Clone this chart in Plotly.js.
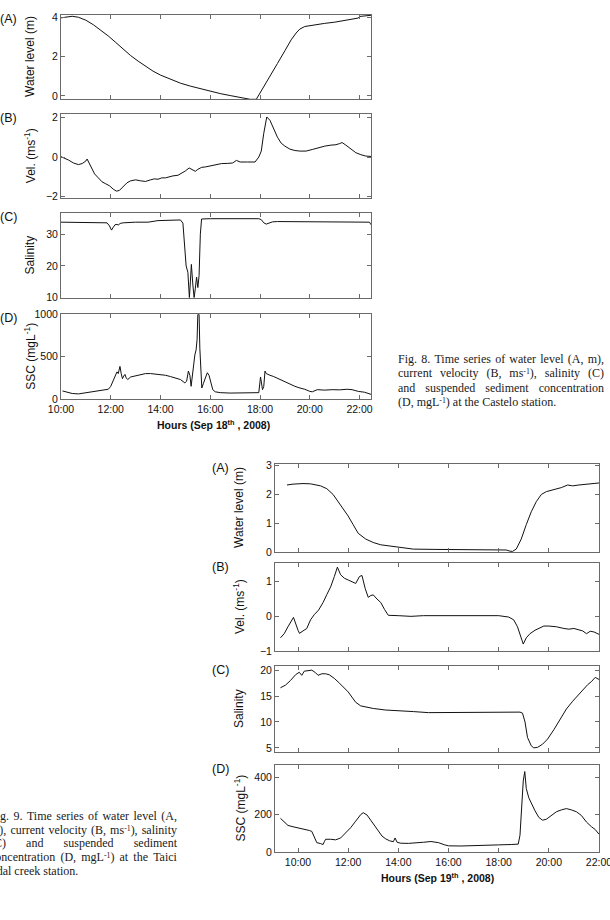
<!DOCTYPE html>
<html><head><meta charset="utf-8">
<script src="https://cdn.plot.ly/plotly-3.0.1.min.js"></script>
<style>
html,body{margin:0;padding:0;background:#fff;}
body{width:610px;height:920px;overflow:hidden;position:relative;}
#chart{position:absolute;left:0;top:0;width:610px;height:920px;}
.cap{position:absolute;font-family:"Liberation Serif","Times New Roman",serif;color:#1a1a1a;z-index:5;}
.cap .ln{display:flex;justify-content:space-between;white-space:nowrap;}
.cap .ln.last{display:block;}
.cap sup{font-size:65%;vertical-align:0.45em;line-height:0;}
</style></head>
<body>
<div id="chart"></div>
<script>
// ---------- Fig. 8 (Castelo, Sep 18th 2008) ----------
const h8A = [10.0,10.2,10.45,10.7,11.0,11.3,11.6,11.9,12.2,12.5,12.8,13.1,13.4,13.7,14.0,14.4,14.8,15.2,15.6,16.0,16.4,16.8,17.2,17.45,17.6,17.85,18.1,18.4,18.7,19.0,19.25,19.45,19.6,19.8,20.2,20.6,21.0,21.4,21.8,21.95,22.0,22.2,22.46];
const waterLevel8 = [3.97,4.02,4.05,4.0,3.85,3.62,3.35,3.05,2.72,2.38,2.05,1.77,1.5,1.26,1.06,0.85,0.65,0.5,0.36,0.24,0.12,0.02,-0.08,-0.15,-0.17,-0.17,0.35,1.0,1.65,2.3,2.85,3.2,3.4,3.53,3.62,3.69,3.75,3.83,3.92,3.96,4.04,4.06,4.1];

const h8B = [10.0,10.15,10.3,10.5,10.7,10.85,11.0,11.05,11.2,11.35,11.5,11.65,11.8,11.95,12.1,12.23,12.35,12.5,12.65,12.8,13.0,13.2,13.4,13.6,13.75,13.9,14.05,14.2,14.35,14.5,14.7,14.9,15.0,15.15,15.25,15.4,15.5,15.65,15.8,16.0,16.2,16.45,16.7,16.9,17.05,17.2,17.5,17.8,17.95,18.05,18.15,18.27,18.4,18.55,18.7,18.85,19.0,19.2,19.4,19.6,19.85,20.1,20.35,20.6,20.85,21.05,21.2,21.3,21.45,21.65,21.85,22.05,22.25,22.46];
const velocity8 = [0.02,-0.05,-0.15,-0.3,-0.38,-0.33,-0.2,-0.1,-0.45,-0.85,-1.05,-1.25,-1.35,-1.45,-1.62,-1.72,-1.68,-1.5,-1.3,-1.2,-1.15,-1.2,-1.23,-1.15,-1.1,-1.12,-1.05,-1.05,-0.98,-0.95,-0.92,-0.8,-0.7,-0.55,-0.62,-0.72,-0.62,-0.52,-0.5,-0.45,-0.4,-0.33,-0.32,-0.3,-0.17,-0.25,-0.25,-0.25,0.0,0.3,1.2,2.02,1.85,1.4,1.0,0.7,0.55,0.4,0.33,0.3,0.3,0.38,0.48,0.55,0.6,0.62,0.68,0.73,0.6,0.4,0.22,0.12,0.05,0.03];

const h8C = [10.0,10.5,11.0,11.5,11.85,11.95,12.03,12.1,12.17,12.25,12.3,12.38,12.5,13.0,13.5,13.9,14.3,14.8,14.9,14.97,15.03,15.1,15.16,15.2,15.24,15.3,15.35,15.4,15.45,15.5,15.55,15.6,15.65,16.0,16.5,17.0,17.5,17.95,18.05,18.15,18.25,18.35,18.5,18.7,19.5,20.5,21.5,22.4,22.46];
const salinity8 = [33.8,33.8,33.8,33.8,33.6,32.6,31.3,32.2,33.0,33.1,32.9,33.4,33.6,33.8,33.8,34.3,34.4,34.5,33.5,27.0,20.0,18.0,10.0,15.0,20.5,14.0,10.0,13.0,16.5,13.2,17.0,30.0,34.8,34.9,34.9,34.9,34.9,34.9,34.6,33.6,33.2,33.5,33.9,34.0,34.0,33.9,33.8,33.8,33.0];

const h8D = [10.06,10.25,10.45,10.7,10.9,11.1,11.3,11.5,11.7,11.9,12.0,12.08,12.15,12.2,12.25,12.3,12.37,12.42,12.47,12.52,12.57,12.62,12.68,12.8,13.0,13.2,13.4,13.6,13.8,14.0,14.2,14.4,14.6,14.8,14.98,15.05,15.12,15.18,15.23,15.28,15.33,15.38,15.43,15.47,15.5,15.55,15.58,15.62,15.66,15.72,15.8,15.88,15.95,16.02,16.1,16.2,16.4,16.8,17.2,17.6,17.95,18.02,18.06,18.1,18.15,18.2,18.25,18.3,18.4,18.55,18.7,18.85,19.0,19.2,19.4,19.6,19.8,20.0,20.1,20.3,20.6,20.9,21.2,21.5,21.7,21.95,22.2,22.46];
const ssc8 = [95,80,65,60,68,78,85,95,105,115,150,200,260,280,320,300,385,300,240,270,290,250,230,260,275,290,300,300,295,290,280,265,250,230,190,210,330,280,150,300,400,520,580,700,1000,1000,600,300,130,180,250,310,280,200,110,85,75,70,72,74,75,260,150,110,150,330,300,290,280,265,245,225,200,175,150,130,115,90,85,110,105,110,108,115,110,90,80,55];

// ---------- Fig. 9 (Taici tidal creek, Sep 19th 2008) ----------
const h9A = [9.56,9.8,10.2,10.5,10.9,11.15,11.4,11.6,11.8,12.0,12.2,12.4,12.7,13.0,13.3,13.7,14.2,14.6,15.5,16.5,17.5,18.3,18.45,18.55,18.7,18.9,19.1,19.3,19.5,19.7,19.9,20.2,20.5,20.75,20.95,21.2,21.6,22.0];
const waterLevel9 = [2.33,2.36,2.38,2.37,2.3,2.2,2.0,1.75,1.5,1.25,0.95,0.65,0.45,0.33,0.25,0.2,0.15,0.1,0.09,0.09,0.08,0.07,0.03,0.02,0.1,0.45,0.95,1.4,1.75,2.0,2.1,2.17,2.24,2.33,2.3,2.33,2.37,2.4];

const h9B = [9.3,9.45,9.6,9.82,10.0,10.06,10.2,10.35,10.5,10.65,10.82,11.0,11.15,11.3,11.45,11.57,11.7,11.85,12.0,12.15,12.3,12.45,12.55,12.68,12.8,12.9,13.0,13.15,13.3,13.45,13.6,14.0,14.5,15.0,15.5,16.0,16.5,17.0,17.5,18.0,18.4,18.6,18.75,18.9,18.98,19.1,19.25,19.45,19.65,19.8,20.0,20.3,20.6,20.8,21.0,21.2,21.35,21.5,21.65,21.8,22.0];
const velocity9 = [-0.62,-0.5,-0.3,-0.03,-0.4,-0.49,-0.42,-0.35,-0.1,0.05,0.18,0.4,0.63,0.85,1.15,1.42,1.2,1.1,1.05,1.0,0.95,1.15,1.18,0.8,0.55,0.6,0.62,0.5,0.4,0.2,0.03,0.02,0.0,0.02,0.02,0.02,0.03,0.03,0.03,0.02,-0.02,-0.1,-0.3,-0.65,-0.8,-0.62,-0.5,-0.4,-0.33,-0.28,-0.28,-0.3,-0.35,-0.37,-0.35,-0.38,-0.42,-0.5,-0.43,-0.45,-0.52];

const h9C = [9.3,9.5,9.7,9.9,10.05,10.15,10.25,10.35,10.55,10.7,10.8,10.95,11.1,11.25,11.45,11.65,11.85,12.0,12.15,12.3,12.5,12.75,13.0,13.5,14.0,14.6,15.2,16.0,17.0,18.0,18.85,18.95,19.05,19.15,19.3,19.4,19.55,19.75,19.95,20.2,20.45,20.7,20.95,21.2,21.4,21.55,21.7,21.85,22.0];
const salinity9 = [16.6,17.1,18.0,19.1,19.6,19.0,19.8,19.9,20.0,19.5,19.0,19.3,19.3,19.1,18.4,17.5,16.5,15.8,14.8,13.8,13.1,12.8,12.6,12.3,12.1,12.0,11.8,11.8,11.8,11.9,11.9,11.7,10.0,7.0,5.4,5.0,5.1,5.7,6.7,8.5,10.5,12.5,14.0,15.4,16.3,17.2,17.8,18.6,18.2];

const h9D = [9.3,9.45,9.6,9.8,10.0,10.2,10.35,10.45,10.55,10.65,10.75,10.9,11.0,11.05,11.1,11.3,11.5,11.7,11.9,12.1,12.3,12.5,12.6,12.75,12.9,13.05,13.2,13.35,13.5,13.65,13.8,13.87,13.95,14.1,14.4,14.7,15.0,15.3,15.6,15.85,16.0,16.5,17.0,17.5,18.0,18.5,18.78,18.85,18.92,18.98,19.04,19.1,19.2,19.3,19.45,19.6,19.75,19.9,20.1,20.3,20.5,20.7,20.9,21.1,21.3,21.5,21.7,21.85,22.0];
const ssc9 = [180,160,142,135,130,122,118,115,110,80,50,45,40,55,68,68,65,75,100,130,165,200,210,198,170,140,110,85,70,60,55,75,52,47,46,48,52,56,50,38,33,32,33,35,38,40,42,90,250,380,430,340,290,260,220,185,170,175,195,215,225,232,225,215,195,160,135,120,95];

// ---------- tick labels ----------
const hourTickVals = [10,12,14,16,18,20,22];
const hourTickText = ["10:00","12:00","14:00","16:00","18:00","20:00","22:00"];
const yTicks8 = [[0,2,4],[-2,0,2],[10,20,30],[0,500,1000]];
const yTicks9 = [[0,1,2,3],[-1,0,1],[5,10,15,20],[0,200,400]];
const yTitles = ["Water level (m)","Vel. (ms<sup>-1</sup>)","Salinity","SSC (mgL<sup>-1</sup>)"];
const panelLabels = ["(A)","(B)","(C)","(D)"];
const xTitle8 = "<b>Hours (Sep 18<sup>th</sup> , 2008)</b>";
const xTitle9 = "<b>Hours (Sep 19<sup>th</sup> , 2008)</b>";

const caption8 = [
  "Fig. 8. Time series of water level (A, m),",
  "current velocity (B, ms<sup>-1</sup>), salinity (C)",
  "and suspended sediment concentration",
  "(D, mgL<sup>-1</sup>) at the Castelo station."
];
const caption9 = [
  "Fig. 9. Time series of water level (A,",
  "m), current velocity (B, ms<sup>-1</sup>), salinity",
  "(C) and suspended sediment",
  "concentration (D, mgL<sup>-1</sup>) at the Taici",
  "tidal creek station."
];

// ---------- layout geometry (pixels) ----------
const W = 610, H = 920;
const fx = p => p / W;
const fy = p => 1 - p / H;
const FONT = '"Liberation Sans", Arial, sans-serif';
const AXC = '#6a6a6a';

const fig8 = {left:61, right:371, xr:[10.0,22.46],
  panels:[[14.7,99.3],[114,198.3],[213.3,297.7],[314.3,399]],
  yr:[[-0.17,4.13],[-2.08,2.17],[10,36.6],[0,1000]],
  data:[[h8A,waterLevel8],[h8B,velocity8],[h8C,salinity8],[h8D,ssc8]],
  yticks:yTicks8, labelX:8.5, labelDy:4, titleX:30, xTitle:xTitle8, xTitleY:424, xTitleX:213};
const fig9 = {left:275, right:599, xr:[9.083,22.0],
  panels:[[464,552],[563,651],[666,752],[765,852]],
  yr:[[0,3.06],[-1,1.54],[4.2,20.8],[0,465]],
  data:[[h9A,waterLevel9],[h9B,velocity9],[h9C,salinity9],[h9D,ssc9]],
  yticks:yTicks9, labelX:220, labelDy:4, titleX:239, xTitle:xTitle9, xTitleY:877, xTitleX:437};

const traces = [];
const layout = {
  width: W, height: H, margin:{l:0,r:0,t:0,b:0,pad:0},
  paper_bgcolor:'#fff', plot_bgcolor:'#fff', showlegend:false,
  font:{family:FONT, size:10.5, color:'#111'},
  annotations:[]
};

let n = 0;
[fig8, fig9].forEach(f => {
  f.panels.forEach((p, i) => {
    n += 1;
    const xa = n === 1 ? 'xaxis' : 'xaxis' + n;
    const ya = n === 1 ? 'yaxis' : 'yaxis' + n;
    const xs = n === 1 ? 'x' : 'x' + n;
    const ys = n === 1 ? 'y' : 'y' + n;
    traces.push({type:'scatter', mode:'lines', x:f.data[i][0], y:f.data[i][1],
      xaxis:xs, yaxis:ys, line:{color:'#111', width:1}, hoverinfo:'skip'});
    layout[xa] = {domain:[fx(f.left), fx(f.right)], anchor:ys, range:f.xr,
      tickmode:'array', tickvals:hourTickVals, ticktext:hourTickText,
      showticklabels: i === 3, ticks:'inside', ticklen:4, tickwidth:1, tickcolor:AXC,
      ticklabeloverflow:'allow',
      showline:true, linecolor:AXC, linewidth:1, mirror:'allticks',
      showgrid:false, zeroline:false, fixedrange:true,
      tickfont:{family:FONT, size:10.5, color:'#111'}};
    layout[ya] = {domain:[fy(p[1]), fy(p[0])], anchor:xs, range:f.yr[i],
      tickmode:'array', tickvals:f.yticks[i],
      ticks:'inside', ticklen:4, tickwidth:1, tickcolor:AXC,
      showline:true, linecolor:AXC, linewidth:1, mirror:'allticks',
      showgrid:false, zeroline:false, fixedrange:true,
      tickfont:{family:FONT, size:10.5, color:'#111'}};
    layout.annotations.push({xref:'paper', yref:'paper', x:fx(f.labelX), y:fy(p[0] + f.labelDy),
      text:panelLabels[i], showarrow:false, xanchor:'center', yanchor:'middle',
      font:{family:FONT, size:12.5, color:'#111'}});
    layout.annotations.push({xref:'paper', yref:'paper', x:fx(f.titleX), y:fy((p[0] + p[1]) / 2),
      text:yTitles[i], showarrow:false, textangle:-90, xanchor:'center', yanchor:'middle',
      font:{family:FONT, size:12, color:'#111'}});
  });
  layout.annotations.push({xref:'paper', yref:'paper', x:fx(f.xTitleX), y:fy(f.xTitleY),
    text:f.xTitle, showarrow:false, xanchor:'center', yanchor:'middle',
    font:{family:FONT, size:10.5, color:'#111'}});
});

Plotly.newPlot('chart', traces, layout, {staticPlot:true, displayModeBar:false});

// ---------- captions (justified lines) ----------
function makeCaption(lines, left, top, width, lineH, size) {
  const box = document.createElement('div');
  box.className = 'cap';
  box.style.left = left + 'px';
  box.style.top = top + 'px';
  box.style.width = width + 'px';
  box.style.fontSize = size + 'px';
  lines.forEach((line, k) => {
    const ln = document.createElement('div');
    ln.className = 'ln' + (k === lines.length - 1 ? ' last' : '');
    ln.style.height = lineH + 'px';
    ln.style.lineHeight = lineH + 'px';
    if (k === lines.length - 1) {
      ln.innerHTML = line;
    } else {
      line.split(' ').forEach(w => {
        const s = document.createElement('span');
        s.innerHTML = w;
        ln.appendChild(s);
      });
    }
    box.appendChild(ln);
  });
  document.body.appendChild(box);
}
makeCaption(caption8, 398, 352, 206, 14.3, 12);
makeCaption(caption9, -10, 810, 187, 13.7, 12);
</script>
</body></html>
